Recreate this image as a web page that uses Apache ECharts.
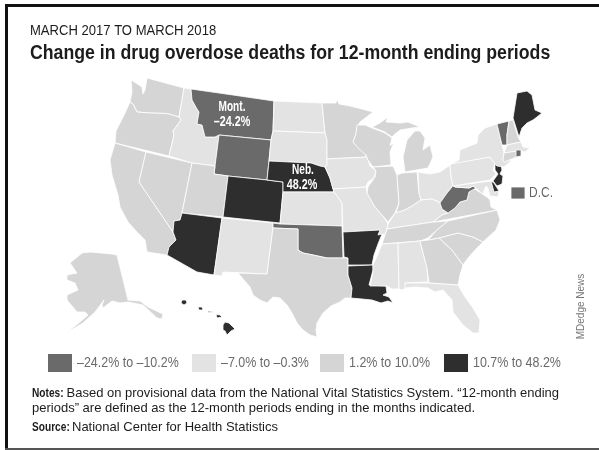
<!DOCTYPE html>
<html>
<head>
<meta charset="utf-8">
<title>Change in drug overdose deaths</title>
<script src="https://cdn.jsdelivr.net/npm/echarts@6/dist/echarts.min.js"></script>
<style>
html, body { margin: 0; padding: 0; background: #fff; }
#chart { width: 599px; height: 450px; }
</style>
</head>
<body>
<div id="chart"></div>
<script>
// legend bins, lowest first
var binLabels = ['–24.2% to –10.2%', '–7.0% to –0.3%', '1.2% to 10.0%', '10.7% to 48.2%'];
var binColors = ['#6a6a6a', '#e3e3e3', '#d5d5d5', '#2e2e2e'];

// states in each bin
var binDown = ['Mont.', 'Wyo.', 'Okla.', 'W.Va.', 'Vt.', 'R.I.', 'D.C.'];
var binSlightDown = ['Idaho', 'N.D.', 'S.D.', 'Iowa', 'Kan.', 'Mo.', 'N.M.', 'Ky.', 'Ohio', 'Pa.', 'N.Y.', 'Mass.', 'Md.', 'Miss.', 'Ala.', 'Fla.'];
var binUp = ['Wash.', 'Ore.', 'Calif.', 'Nev.', 'Utah', 'Texas', 'Minn.', 'Wis.', 'Ill.', 'Ind.', 'Mich.', 'Tenn.', 'Va.', 'N.C.', 'S.C.', 'Ga.', 'N.H.', 'Conn.', 'Alaska'];
var binHigh = ['Neb.', 'Colo.', 'Ariz.', 'Ark.', 'La.', 'Maine', 'N.J.', 'Del.', 'Hawaii'];

// base map outlines, traced in page pixels
var stateOutlines = {
    'Wash.': [[[131,80],[136,83],[142,87],[143,94],[145,90],[146,84],[147,78],[184,88],[179,117],[167,113.5],[150,113],[137,112],[133,104],[130,102],[132,92]]],
    'Ore.': [[[130,102],[133,104],[137,112],[150,113],[167,113.5],[179,117],[181,120],[173,131],[174,135],[169,156],[115,143],[116,131],[125,113]]],
    'Calif.': [[[115,143],[146,152],[139,182],[173,232],[176,240],[169,248],[167,255],[147,252],[145,240],[137,232],[128,222],[120,207],[118,195],[112,175],[110,160]]],
    'Nev.': [[[146,152],[192,163],[182,213],[180,220],[174,221],[173,232],[139,182]]],
    'Idaho': [[[184,88],[191,89],[192,100],[197,109],[199,112],[197,124],[202,125],[205,137],[215,137],[219,135],[215,166],[192,163],[169,156],[174,135],[173,131],[181,120],[179,117]]],
    'Mont.': [[[191,89],[233,95],[274,101],[273,131],[271,140],[219,135],[215,137],[205,137],[202,125],[197,124],[199,112],[197,109],[192,100]]],
    'Wyo.': [[[219,135],[271,140],[269,161],[267,180],[228,176],[214,174],[215,166]]],
    'Utah': [[[192,163],[215,166],[214,174],[228,176],[223,217],[182,213]]],
    'Colo.': [[[228,176],[267,180],[283,182],[283,192],[280,223],[223,217]]],
    'Ariz.': [[[182,213],[222,218],[214,275],[197,272],[167,255],[169,247],[176,240],[173,232],[174,221],[180,220]]],
    'N.M.': [[[222,218],[273,223],[273,228],[267,274],[223,272],[222,276],[214,275]]],
    'N.D.': [[[274,101],[322,103],[325,133],[273,131]]],
    'S.D.': [[[273,131],[325,133],[327,140],[327,158],[327,165],[325,167],[320,166],[311,163],[269,161],[271,140]]],
    'Neb.': [[[269,161],[311,163],[320,166],[325,167],[330,178],[334,192],[283,192],[283,182],[267,180]]],
    'Kan.': [[[283,192],[334,192],[338,197],[342,203],[342,226],[280,224]]],
    'Okla.': [[[273,223],[280,224],[342,226],[343,258],[327,258],[313,255],[303,253],[298,250],[298,229],[273,228]]],
    'Texas': [[[273,228],[298,229],[298,250],[303,253],[313,255],[327,258],[343,258],[344,257],[348,258],[348,275],[352,288],[351,298],[345,298],[340,302],[331,306],[323,313],[317,323],[316,330],[317,337],[310,335],[303,330],[297,323],[292,313],[287,305],[280,298],[273,297],[267,303],[260,300],[253,295],[250,287],[238,273],[267,274]]],
    'Minn.': [[[322,103],[336,103],[337,99],[339,104],[350,106],[362,109],[373,112],[360,122],[357,127],[356,134],[353,142],[358,147],[363,151],[367,157],[327,159],[327,140],[325,133]]],
    'Iowa': [[[327,159],[367,157],[370,166],[376,171],[374,178],[368,182],[366,187],[333,189],[330,178],[325,167],[327,165]]],
    'Mo.': [[[333,189],[366,187],[367,193],[375,207],[383,216],[388,224],[387,229],[385,235],[382,234],[378,235],[380,230],[343,232],[342,203],[338,197],[334,192]]],
    'Ark.': [[[343,232],[380,230],[378,235],[382,234],[378,244],[374,255],[372,265],[348,265],[348,258],[344,257]]],
    'La.': [[[348,266],[373,265],[373,270],[369,285],[386,286],[387,293],[383,295],[389,297],[393,303],[388,301],[381,303],[372,300],[362,299],[351,298],[352,288],[348,275]]],
    'Wis.': [[[357,125],[365,125],[372,128],[385,133],[392,138],[390,146],[394,142],[390,152],[391,165],[373,167],[368,160],[366,155],[358,148],[353,142],[356,134]]],
    'Mich.': [[[372,127],[380,123],[388,117],[386,122],[400,123],[408,122],[420,127],[412,128],[400,130],[395,134],[392,137],[385,132]], [[415,131],[420,131],[425,138],[423,150],[430,145],[433,157],[428,168],[405,172],[403,157],[407,140]]],
    'Ill.': [[[373,167],[393,166],[397,175],[399,203],[395,213],[388,222],[383,216],[375,207],[367,193],[368,187],[375,177],[376,171]]],
    'Ind.': [[[397,175],[402,173],[417,172],[419,193],[421,200],[412,206],[405,210],[396,213],[399,203]]],
    'Ohio': [[[418,172],[430,174],[440,172],[450,165],[451,177],[453,185],[447,193],[441,203],[432,199],[421,200],[419,193]]],
    'Ky.': [[[388,224],[395,213],[405,210],[412,206],[421,200],[432,199],[441,203],[442,209],[448,213],[442,215],[433,222],[387,229]]],
    'Tenn.': [[[387,229],[433,222],[448,221],[437,230],[428,238],[420,241],[382,244],[385,235]]],
    'Miss.': [[[382,244],[398,243],[399,289],[392,289],[387,286],[370,286],[373,272],[373,265],[378,254]]],
    'Ala.': [[[398,243],[420,241],[427,268],[428,282],[405,283],[406,288],[402,290],[399,289]]],
    'Ga.': [[[420,241],[428,240],[439,238],[452,250],[463,265],[460,275],[458,285],[429,283],[427,268]]],
    'Fla.': [[[405,283],[428,283],[458,285],[465,297],[473,308],[480,320],[479,333],[473,333],[463,325],[453,312],[452,300],[443,290],[435,292],[428,288],[415,287],[405,288]]],
    'S.C.': [[[439,238],[450,235],[458,233],[473,237],[483,242],[475,250],[468,258],[463,265],[452,250]]],
    'N.C.': [[[448,221],[497,210],[500,220],[496,230],[483,242],[473,237],[458,233],[450,235],[439,238],[428,240],[437,230]]],
    'Va.': [[[433,222],[442,215],[448,213],[455,208],[460,202],[467,200],[469,192],[473,188],[481,193],[487,197],[490,200],[491,207],[497,210]]],
    'W.Va.': [[[453,184],[455,187],[469,188],[473,186],[476,188],[469,192],[467,200],[460,202],[455,208],[448,213],[442,209],[440,203],[447,193],[452,187]]],
    'Md.': [[[453,186],[491,181],[494,192],[499,191],[498,197],[490,196],[488,188],[486,186],[483,193],[487,197],[481,193],[476,188],[473,186],[469,188],[455,187]]],
    'Del.': [[[491,181],[494,183],[499,191],[494,192]]],
    'Pa.': [[[450,165],[453,163],[490,157],[495,163],[493,170],[496,174],[490,180],[453,186],[451,177]]],
    'N.J.': [[[495,163],[501,165],[502,170],[500,174],[503,176],[502,184],[497,186],[493,181],[498,174],[495,170]]],
    'N.Y.': [[[451,164],[459,160],[460,150],[477,143],[478,135],[485,128],[497,124],[502,145],[504,153],[503,160],[512,160],[504,167],[497,166],[494,163],[490,157]]],
    'Vt.': [[[497,124],[509,121],[507,135],[507,145],[502,145]]],
    'N.H.': [[[509,121],[513,120],[518,137],[521,142],[507,145],[507,135]]],
    'Maine': [[[513,118],[517,93],[522,92],[527,91],[532,95],[535,110],[542,113],[537,117],[533,120],[527,123],[522,128],[519,137]]],
    'Mass.': [[[507,145],[521,142],[523,147],[530,148],[525,152],[521,151],[504,153]]],
    'Conn.': [[[504,153],[517,151],[517,157],[504,162],[503,160]]],
    'R.I.': [[[516,150],[521,150],[521,156],[516,157]]],
    'D.C.': [[[511,187],[525,187],[525,199],[511,199]]],
    'Alaska': [[[82,253],[90,252],[112,254],[117,255],[128,300],[140,301],[148,307],[163,314],[162,319],[157,318],[143,305],[128,302],[120,303],[112,301],[103,308],[102,305],[104,300],[95,312],[83,323],[66,333],[80,322],[88,315],[85,312],[77,312],[67,300],[67,295],[78,290],[75,283],[67,280],[67,275],[77,273],[70,263]]],
    'Hawaii': [[[182,300],[186,300],[187,303],[184,305],[181,303]], [[198,307],[202,307],[203,310],[199,310]], [[208,311],[214,312],[214,313],[208,312.5]], [[216,314.5],[220,315],[222,317],[217,318]], [[225,322],[229,323],[232,326],[235,329],[231,331],[227,335],[225,331],[223,330],[223,325]]]
};

var features = [];
Object.keys(stateOutlines).forEach(function (name) {
    var rings = stateOutlines[name].map(function (ring) {
        var out = ring.map(function (p) { return [p[0], -p[1]]; });
        out.push(out[0]);
        return [out];
    });
    features.push({
        type: 'Feature',
        properties: { name: name },
        geometry: { type: 'MultiPolygon', coordinates: rings }
    });
});
echarts.registerMap('usa', { type: 'FeatureCollection', features: features });

var mapData = [];
[binDown, binSlightDown, binUp, binHigh].forEach(function (list, bin) {
    list.forEach(function (name) {
        mapData.push({ name: name, value: bin });
    });
});

// no condensed face is installed, so text is squeezed with scaleX
function label(text, x, y, size, opt) {
    opt = opt || {};
    return {
        type: 'text', silent: true, z: 100, x: x, y: y, scaleX: opt.scale || 1,
        style: {
            text: text,
            fill: opt.color || '#1c1c1c',
            font: (opt.bold ? 'bold ' : '') + size + 'px "Liberation Sans", Arial, sans-serif',
            align: opt.align || 'left',
            verticalAlign: 'middle'
        }
    };
}

var legendX = [48, 192, 320, 444];
var graphics = [
    { type: 'rect', silent: true, shape: { x: 5, y: 4, width: 594, height: 3 }, style: { fill: '#111' } },
    { type: 'rect', silent: true, shape: { x: 5, y: 4, width: 3, height: 445 }, style: { fill: '#111' } },
    { type: 'rect', silent: true, shape: { x: 5, y: 448, width: 594, height: 2 }, style: { fill: '#555' } },
    label('MARCH 2017 TO MARCH 2018', 30, 31, 15, { scale: 0.87 }),
    label('Change in drug overdose deaths for 12-month ending periods', 30, 53, 20, { bold: true, scale: 0.885 }),
    label('Mont.', 232, 107, 14, { bold: true, color: '#fff', align: 'center', scale: 0.72 }),
    label('–24.2%', 232, 122, 14, { bold: true, color: '#fff', align: 'center', scale: 0.77 }),
    label('Neb.', 303, 170, 14, { bold: true, color: '#fff', align: 'center', scale: 0.72 }),
    label('48.2%', 302, 185, 14, { bold: true, color: '#fff', align: 'center', scale: 0.77 }),
    label('D.C.', 529, 193, 15, { color: '#666', scale: 0.8 }),
    label('Notes:', 32, 393, 13, { bold: true, scale: 0.78 }),
    label('Based on provisional data from the National Vital Statistics System. “12-month ending', 66.5, 393, 13),
    label('periods” are defined as the 12-month periods ending in the months indicated.', 32, 408, 13),
    label('Source:', 32, 427, 13, { bold: true, scale: 0.78 }),
    label('National Center for Health Statistics', 72, 427, 13),
    {
        type: 'text', silent: true, x: 581, y: 306.5, rotation: Math.PI / 2,
        style: { text: 'MDedge News', fill: '#777', font: '10px "Liberation Sans", Arial, sans-serif', align: 'center', verticalAlign: 'middle' }
    }
];
binLabels.forEach(function (text, i) {
    graphics.push({ type: 'rect', silent: true, shape: { x: legendX[i], y: 354, width: 24, height: 18 }, style: { fill: binColors[i] } });
    graphics.push(label(text, legendX[i] + 29, 363, 15, { color: '#6b6b6b', scale: 0.83 }));
});

var chart = echarts.init(document.getElementById('chart'));
chart.setOption({
    animation: false,
    backgroundColor: '#fff',
    visualMap: {
        type: 'piecewise',
        show: false,
        pieces: binLabels.map(function (text, i) {
            return { value: i, label: text, color: binColors[i] };
        })
    },
    series: [{
        type: 'map',
        map: 'usa',
        roam: false,
        silent: true,
        aspectScale: 1,
        boundingCoords: [[0, 0], [599, -450]],
        left: 0,
        top: 0,
        width: 599,
        height: 450,
        itemStyle: { borderColor: '#fff', borderWidth: 0.8 },
        label: { show: false },
        emphasis: { disabled: true },
        select: { disabled: true },
        data: mapData
    }],
    graphic: graphics
});
</script>
</body>
</html>
